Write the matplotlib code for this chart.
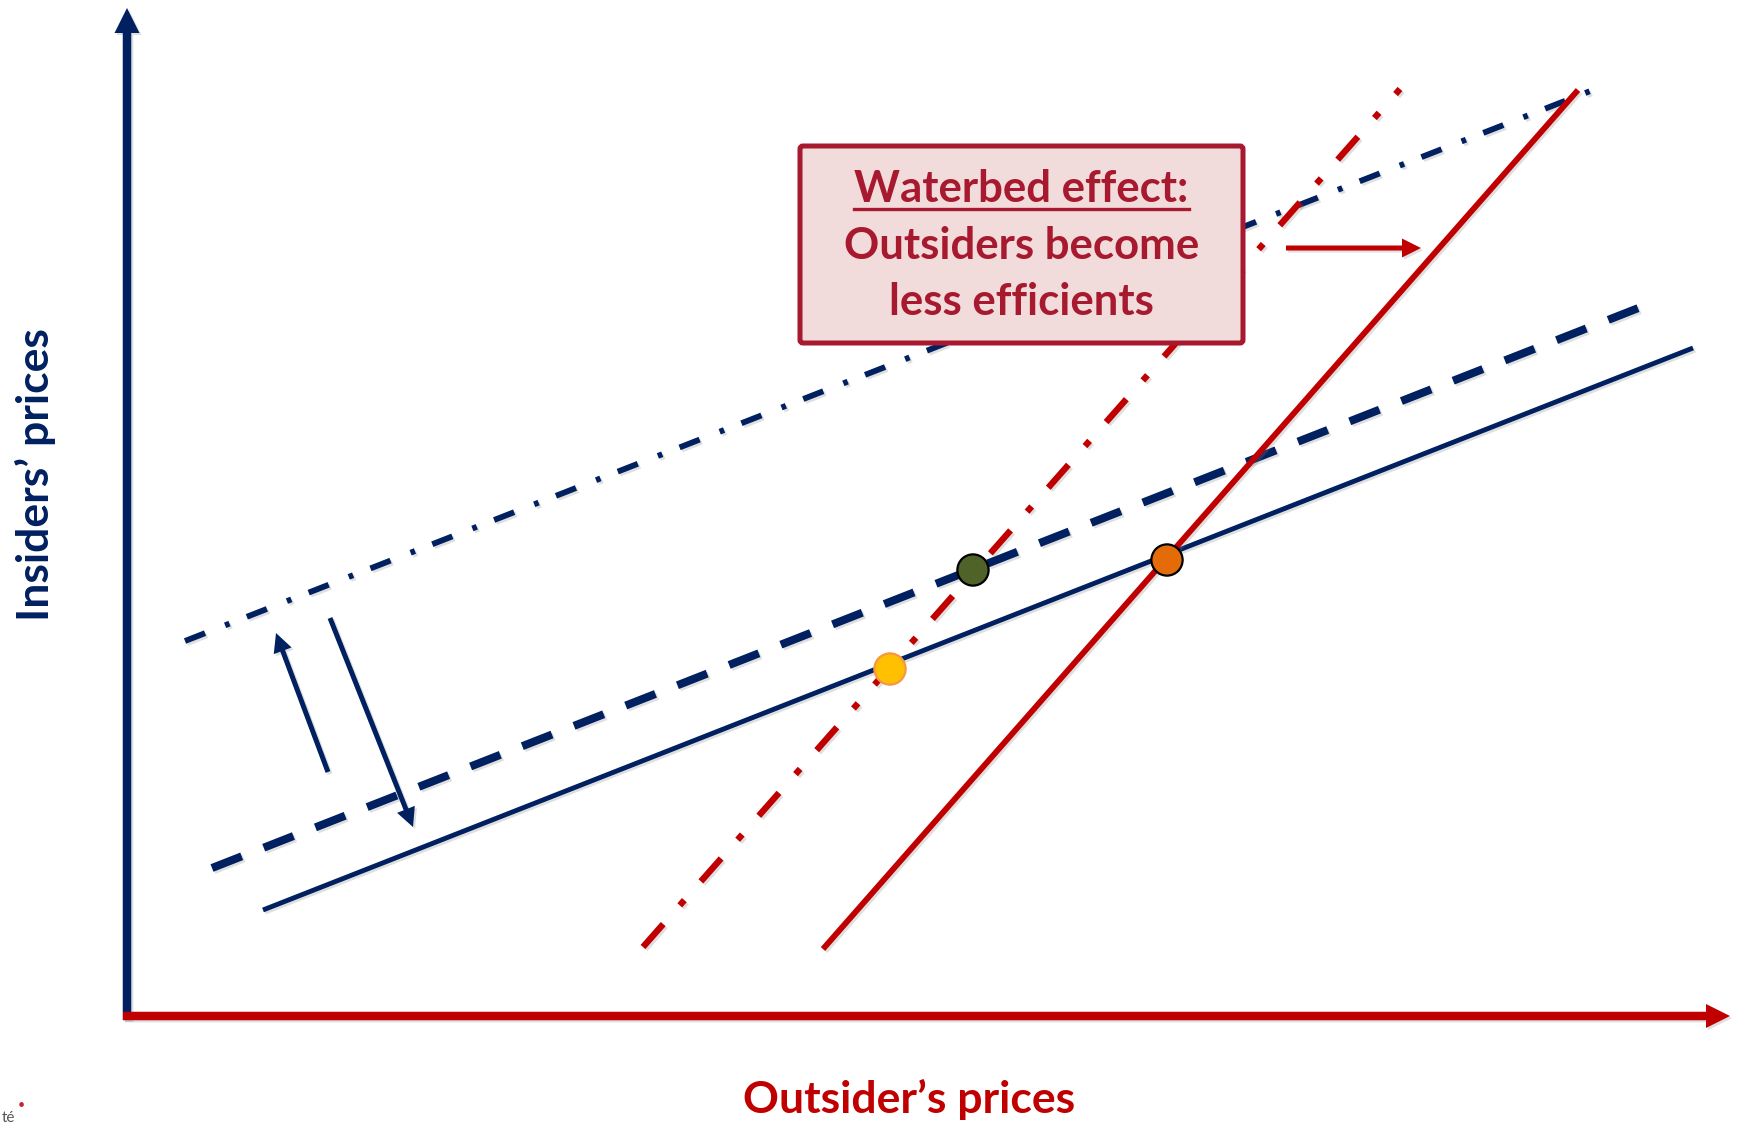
import matplotlib
matplotlib.use('Agg')
import matplotlib.pyplot as plt
import matplotlib.patheffects as pe
from matplotlib.patches import FancyBboxPatch

plt.rcParams['font.family'] = ['Lato', 'DejaVu Sans']
plt.rcParams['lines.scale_dashes'] = False

NAVY = '#002060'
RED = '#C00000'
CRIMSON = '#A6192E'

# Curves (outsider price on x, insider price on y), endpoints
insiders_x = [1.36, 15.66]
insiders_y = [1.06, 6.68]
insiders_mid_x = [0.85, 15.14]
insiders_mid_y = [1.48, 7.09]
insiders_high_x = [0.58, 14.71]
insiders_high_y = [3.75, 9.28]
outsiders_x = [6.96, 14.51]
outsiders_y = [0.67, 9.26]
outsiders_new_x = [5.16, 12.73]
outsiders_new_y = [0.69, 9.27]

# Equilibria
eq_x = [7.63, 8.46, 10.40]
eq_y = [3.47, 4.46, 4.56]
eq_face = ['#FFC000', '#4F6228', '#E36C09']
eq_edge = ['#F79646', 'black', 'black']

# Shift arrows (start x, start y, end x, end y)
shift_arrows = [
    (2.01, 2.44, 1.49, 3.83, NAVY),
    (2.03, 3.98, 2.86, 1.89, NAVY),
    (11.59, 7.68, 12.94, 7.68, RED),
]

box_x = [6.73, 11.16]
box_y = [6.73, 8.70]
box_lines = ['Waterbed effect:', 'Outsiders become', 'less efficients']
box_baselines = [8.14, 7.57, 7.01]

fig = plt.figure(figsize=(17.38, 11.24), dpi=100)
ax = fig.add_axes([127 / 1738, 108 / 1124, 1610 / 1738, 1016 / 1124])
ax.set_xlim(0, 16.10)
ax.set_ylim(0, 10.16)
ax.axis('off')

shadow = [pe.SimpleLineShadow(offset=(1.5, -1.5), shadow_color='gray', alpha=0.25), pe.Normal()]
pshadow = [pe.SimplePatchShadow(offset=(1.5, -1.5), shadow_rgbFace='gray', alpha=0.25), pe.Normal()]

# axes arrows
ax.arrow(0, -0.04, 0, 10.12, width=0.085, head_width=0.25, head_length=0.25,
         length_includes_head=True, color=NAVY, lw=0, clip_on=False, path_effects=pshadow, zorder=3)
ax.arrow(-0.04, 0, 16.07, 0, width=0.085, head_width=0.24, head_length=0.24,
         length_includes_head=True, color=RED, lw=0, clip_on=False, path_effects=pshadow, zorder=3)

ax.plot(insiders_x, insiders_y, color=NAVY, lw=3.5, solid_capstyle='butt', path_effects=shadow)
ax.plot(insiders_mid_x, insiders_mid_y, color=NAVY, lw=5.8, dashes=(23, 17), path_effects=shadow)
ax.plot(insiders_high_x, insiders_high_y, color=NAVY, lw=4.2, dashes=(15.5, 15.5, 3.4, 13.4),
        path_effects=shadow)
ax.plot(outsiders_x, outsiders_y, color=RED, lw=4.2, solid_capstyle='butt', path_effects=shadow)
ax.plot(outsiders_new_x, outsiders_new_y, color=RED, lw=4.6, dashes=(22, 18, 5, 18),
        path_effects=shadow)

for x0, y0, x1, y1, c in shift_arrows:
    ax.arrow(x0, y0, x1 - x0, y1 - y0, width=0.05, head_width=0.19, head_length=0.19,
             length_includes_head=True, color=c, lw=0, path_effects=pshadow, zorder=4)

ax.scatter(eq_x, eq_y, s=22.5 ** 2, c=eq_face, edgecolors=eq_edge, linewidths=1.6, zorder=6)

# text box
box = FancyBboxPatch((box_x[0], box_y[0]), box_x[1] - box_x[0], box_y[1] - box_y[0],
                     boxstyle='round,pad=0,rounding_size=0.03', facecolor='#F2DCDB',
                     edgecolor=CRIMSON, lw=3.6, zorder=7)
ax.add_patch(box)
cx = (box_x[0] + box_x[1]) / 2
txts = []
for line, yb in zip(box_lines, box_baselines):
    txts.append(ax.text(cx, yb, line, ha='center', va='baseline', fontsize=31.5,
                        fontweight='bold', color=CRIMSON, zorder=8))

fig.canvas.draw()
bb = txts[0].get_window_extent().transformed(ax.transData.inverted())
ax.plot([bb.x0, bb.x1], [8.07, 8.07], color=CRIMSON, lw=2.4, zorder=8)

ax.text(-0.92, 5.41, 'Insiders\u2019 prices', rotation=90, ha='center', va='center',
        fontsize=32, fontweight='bold', color=NAVY)
ax.text(7.82, -0.97, 'Outsider\u2019s prices', ha='center', va='baseline',
        fontsize=32, fontweight='bold', color=RED)

# cropped logo fragment in the corner
fig.text(0.001, 0.002, 't\u00e9', fontsize=11, color='#555555')
fig.text(0.0105, 0.013, '\u2022', fontsize=9, color='#D0202E')

fig.savefig('out.png', dpi=100)
